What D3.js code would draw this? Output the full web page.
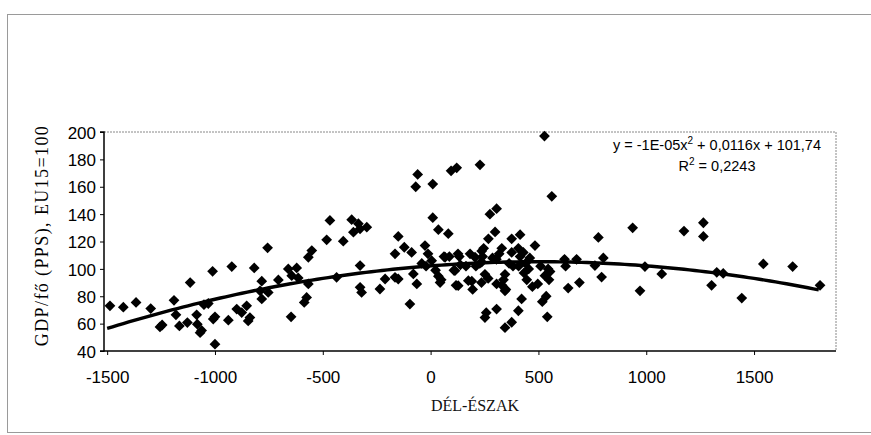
<!DOCTYPE html>
<html>
<head>
<meta charset="utf-8">
<script src="https://cdn.jsdelivr.net/npm/d3@7"></script>
<style>
  html, body { margin: 0; padding: 0; background: #fff; }
  svg { display: block; }
</style>
</head>
<body>
<svg id="chart" width="871" height="435"></svg>
<script>
// ---- data ----
const xTicks = [-1500, -1000, -500, 0, 500, 1000, 1500];
const yTicks = [40, 60, 80, 100, 120, 140, 160, 180, 200];
const xLabel = "DÉL-ÉSZAK";
const yLabel = "GDP/fő (PPS), EU15=100";
const trendCoef = [-1.22e-5, 0.0122, 102.2]; // a, b, c (drawn curve)
const trendRange = [-1500, 1800];
const eqText = "y = -1E-05x";
const eqText2 = " + 0,0116x + 101,74";
const r2Text = " = 0,2243";

const dx = [
  -1487,-1425,-1366,-1298,-1255,-1245,-1190,-1181,-1165,-1115,-1128,-1085,-1082,-1069,-1062,-1051,-1031,-1011,-1000,-1008,-1000,-938,-922,-899,-876,-853,
  -846,-838,-818,-791,-783,-783,-753,-756,-706,-660,-647,-644,-621,-614,-586,-575,-567,-567,-551,-482,-467,-436,-405,-366,-358,-335,-327,-327,-327,-320,-296,-235,-211,-165,-165,-150,
  -122,-88,-26,-12,-60,-69,10,95,121,10,36,82,67,127,-150,-80,-64,-96,36,44,113,128,175,
  -41,-21,23,62,87,108,118,133,138,164,49,5,
  229,306,275,299,268,415,376,237,183,330,376,407,484,206,237,191,252,306,345,345,422,407,306,252,376,345,
  195,210,228,236,241,246,258,267,287,305,318,331,338,349,364,382,408,415,433,446,472,497,510,440,455,460,430,
  518,528,536,541,549,554,562,621,626,638,677,690,530,545,
  762,778,793,801,937,971,994,1072,1175,1265,1265,1303,1327,1357,1443,1543,1679,1806
];
const dy = [
  73,72,75.5,71,57.6,59,77,66.4,58.3,90,60.8,66.4,59.6,53.4,55,73.8,74.7,98.2,65,63.3,45,62.5,101.7,70.6,68.1,73,
  62,64.4,100.7,84,91,78,82.8,115.4,91.9,100,65,95,100.7,93.4,75.5,79.1,89,108.5,113.4,121.2,135.4,93.8,120.2,135.9,126.8,133,129.3,102.4,86.5,82.8,130.5,85.3,92.6,93.8,111,123.7,
  115.8,112,117,111,169,160,162,171.6,173.8,137.4,128.6,125.7,108.5,111,92.6,96.3,89,74.3,94.7,90,98.7,87.7,91.4,
  104,102,99,109,109,99,88,109,103,102,92,106,
  176,144,140,127,122,125,122,113,111,115,112,115,117,108.5,105,91,96,89,84,96,78,69.4,70.6,64.4,61,57,
  85,102,104,90,109,115,68,93,108,107,111,88,92,85,104,102,102,109,97,92,87,89,102,104,100,108,112,
  76,197,80,65,92,98,153,107,102,86,107,90,95,100,
  102.4,123,94,108,130,84,101.7,96.3,127.6,133.7,123.7,88,97.5,96.7,78.7,103.6,101.7,88
];

// ---- layout ----
const svg = d3.select("#chart");
const plot = { left: 104, right: 836, top: 132, bottom: 351 };

const x = d3.scaleLinear().domain([-1510, 1880]).range([105, 836]);
const y = d3.scaleLinear().domain([40, 200]).range([plot.bottom, plot.top]);

// outer scanned frame
svg.append("rect")
  .attr("x", 7.5).attr("y", 14.5).attr("width", 880).attr("height", 418)
  .attr("fill", "none").attr("stroke", "#9a9a9a").attr("stroke-width", 1);

// plot box top/right (dotted grey)
svg.append("path")
  .attr("d", `M${plot.left},${plot.top}H${plot.right}V${plot.bottom}`)
  .attr("fill", "none").attr("stroke", "#888").attr("stroke-width", 1)
  .attr("stroke-dasharray", "2,1");

const fontSans = "'Liberation Sans', Arial, sans-serif";
const fontSerif = "'Liberation Serif', 'Times New Roman', serif";
const fmt = d => String(d);

const yAxis = d3.axisLeft(y).tickValues(yTicks).tickSize(4).tickPadding(4).tickFormat(fmt);
const gy = svg.append("g").attr("transform", `translate(${plot.left},0)`).call(yAxis);
gy.select(".domain").attr("stroke", "#000").attr("stroke-width", 1.5).attr("d", `M-4,${plot.top}H0V${plot.bottom}H-4`);
gy.selectAll("text").attr("font-family", fontSans).attr("font-size", 17).attr("fill", "#000").attr("dy", "0.36em");
gy.selectAll(".tick line").attr("stroke", "#000");

const xAxis = d3.axisBottom(x).tickValues(xTicks).tickSize(4).tickPadding(16).tickFormat(fmt);
const gx = svg.append("g").attr("transform", `translate(0,${plot.bottom})`).call(xAxis);
gx.select(".domain").attr("stroke", "#000").attr("stroke-width", 1.5).attr("d", `M${plot.left},0H${plot.right}`);
gx.selectAll("text").attr("font-family", fontSans).attr("font-size", 17).attr("fill", "#000");
gx.selectAll(".tick line").attr("stroke", "#000");

// axis titles
svg.append("text")
  .attr("x", 475).attr("y", 411)
  .attr("text-anchor", "middle")
  .attr("font-family", fontSerif).attr("font-size", 16)
  .attr("fill", "#111")
  .text(xLabel);

svg.append("text")
  .attr("transform", `translate(48,${(plot.top + plot.bottom) / 2 - 6}) rotate(-90)`)
  .attr("text-anchor", "middle")
  .attr("font-family", fontSerif).attr("font-size", 18)
  .attr("letter-spacing", 1.4)
  .attr("fill", "#000")
  .text(yLabel);

// points
const pts = dx.map((v, i) => ({ x: v, y: dy[i] }));
const sym = d3.symbol().type(d3.symbolSquare).size(58);
svg.append("g").selectAll("path").data(pts).join("path")
  .attr("d", sym)
  .attr("transform", d => `translate(${x(d.x)},${y(d.y)}) rotate(45)`)
  .attr("fill", "#000");

// trend line
const f = v => trendCoef[0] * v * v + trendCoef[1] * v + trendCoef[2];
const tx = d3.range(trendRange[0], trendRange[1] + 1, 25);
svg.append("path")
  .datum(tx)
  .attr("d", d3.line().x(v => x(v)).y(v => y(f(v))))
  .attr("fill", "none").attr("stroke", "#000").attr("stroke-width", 3.4);

// equation
const eq = svg.append("text")
  .attr("x", 717).attr("y", 150)
  .attr("text-anchor", "middle")
  .attr("font-family", fontSans).attr("font-size", 14.5).attr("fill", "#000");
eq.append("tspan").text(eqText);
eq.append("tspan").attr("dy", -6).attr("font-size", 10).text("2");
eq.append("tspan").attr("dy", 6).text(eqText2);

const r2 = svg.append("text")
  .attr("x", 717).attr("y", 171)
  .attr("text-anchor", "middle")
  .attr("font-family", fontSans).attr("font-size", 14.5).attr("fill", "#000");
r2.append("tspan").text("R");
r2.append("tspan").attr("dy", -6).attr("font-size", 10).text("2");
r2.append("tspan").attr("dy", 6).text(r2Text);
</script>
</body>
</html>
